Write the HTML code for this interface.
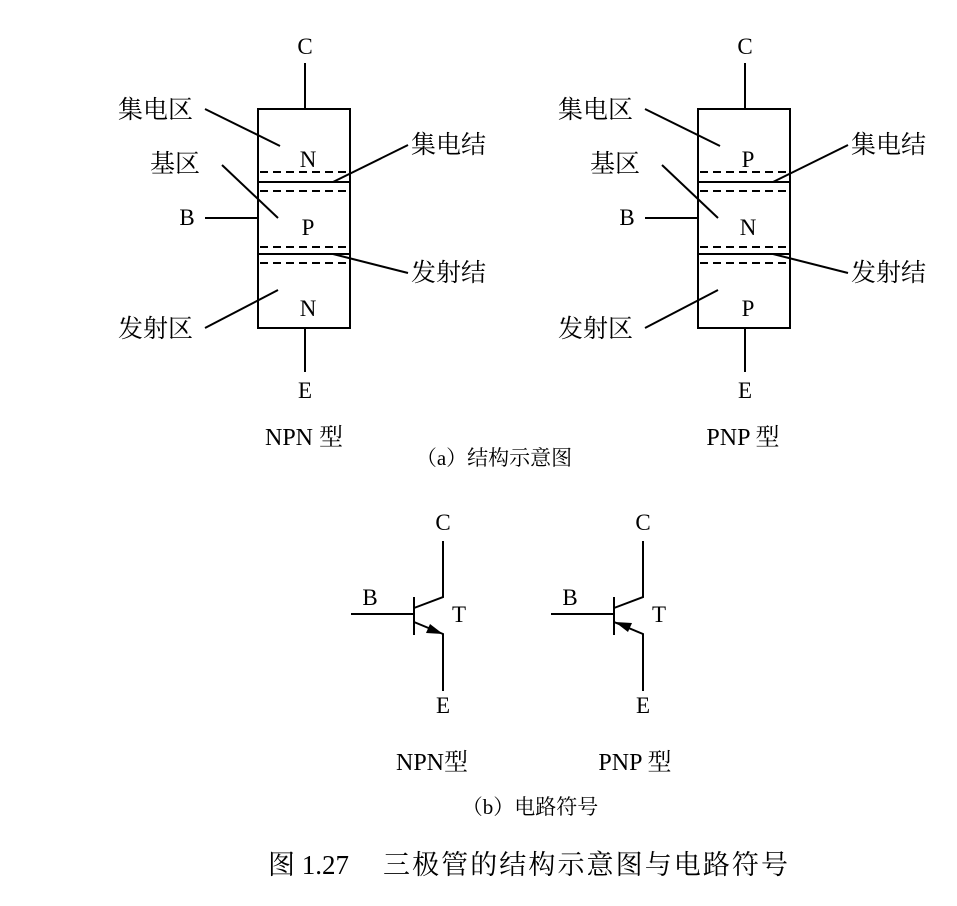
<!DOCTYPE html>
<html><head><meta charset="utf-8"><style>
html,body{margin:0;padding:0;background:#fff}
svg{display:block}
text{font-family:"Liberation Serif","Noto Serif CJK SC",serif;fill:#000}
</style></head><body>
<svg width="957" height="906" viewBox="0 0 957 906" xmlns="http://www.w3.org/2000/svg">
<g stroke="#000" stroke-width="2" fill="none">
 <rect x="258" y="109" width="92" height="219"/>
 <line x1="305" y1="63" x2="305" y2="109"/>
 <line x1="305" y1="328" x2="305" y2="372"/>
 <line x1="205" y1="218" x2="258" y2="218"/>
 <line x1="258" y1="182" x2="350" y2="182"/>
 <line x1="258" y1="254" x2="350" y2="254"/>
 <g stroke-dasharray="8,5">
  <line x1="260" y1="172" x2="348" y2="172"/>
  <line x1="260" y1="191" x2="348" y2="191"/>
  <line x1="260" y1="247" x2="348" y2="247"/>
  <line x1="260" y1="263" x2="348" y2="263"/>
 </g>
 <line x1="205" y1="109" x2="280" y2="146"/>
 <line x1="222" y1="165" x2="278" y2="218"/>
 <line x1="205" y1="328" x2="278" y2="290"/>
 <line x1="333" y1="182" x2="408" y2="145"/>
 <line x1="333" y1="254" x2="408" y2="273"/>
 <g transform="translate(440,0)">
 <rect x="258" y="109" width="92" height="219"/>
 <line x1="305" y1="63" x2="305" y2="109"/>
 <line x1="305" y1="328" x2="305" y2="372"/>
 <line x1="205" y1="218" x2="258" y2="218"/>
 <line x1="258" y1="182" x2="350" y2="182"/>
 <line x1="258" y1="254" x2="350" y2="254"/>
 <g stroke-dasharray="8,5">
  <line x1="260" y1="172" x2="348" y2="172"/>
  <line x1="260" y1="191" x2="348" y2="191"/>
  <line x1="260" y1="247" x2="348" y2="247"/>
  <line x1="260" y1="263" x2="348" y2="263"/>
 </g>
 <line x1="205" y1="109" x2="280" y2="146"/>
 <line x1="222" y1="165" x2="278" y2="218"/>
 <line x1="205" y1="328" x2="278" y2="290"/>
 <line x1="333" y1="182" x2="408" y2="145"/>
 <line x1="333" y1="254" x2="408" y2="273"/>
 </g>
 <line x1="351" y1="614" x2="414" y2="614"/>
 <line x1="414" y1="597" x2="414" y2="635"/>
 <polyline points="414,608 443,597 443,541"/>
 <polyline points="414,622 443,634 443,691"/>
 <line x1="551" y1="614" x2="614" y2="614"/>
 <line x1="614" y1="597" x2="614" y2="635"/>
 <polyline points="614,608 643,597 643,541"/>
 <polyline points="614,622 643,634 643,691"/>
</g>
<polygon points="443,634 426,633 430,624" fill="#000"/>
<polygon points="615,622 632,623 628,632" fill="#000"/>
<g font-size="23" text-anchor="middle">
 <text x="305" y="54">C</text><text x="305" y="398">E</text>
 <text x="187" y="225">B</text>
 <text x="308" y="167">N</text><text x="308" y="235">P</text><text x="308" y="316">N</text>
 <text x="745" y="54">C</text><text x="745" y="398">E</text>
 <text x="627" y="225">B</text>
 <text x="748" y="167">P</text><text x="748" y="235">N</text><text x="748" y="316">P</text>
 <text x="443" y="530">C</text><text x="443" y="713">E</text>
 <text x="370" y="605">B</text><text x="459" y="622">T</text>
 <text x="643" y="530">C</text><text x="643" y="713">E</text>
 <text x="570" y="605">B</text><text x="659" y="622">T</text>
</g>
<g font-size="25">
 <text x="118" y="118">集电区</text>
 <text x="150" y="172">基区</text>
 <text x="118" y="337">发射区</text>
 <text x="411" y="153">集电结</text>
 <text x="411" y="281">发射结</text>
 <text x="558" y="118">集电区</text>
 <text x="590" y="172">基区</text>
 <text x="558" y="337">发射区</text>
 <text x="851" y="153">集电结</text>
 <text x="851" y="281">发射结</text>
</g>
<g font-size="24" text-anchor="middle">
 <text x="304" y="445">NPN 型</text>
 <text x="743" y="445">PNP 型</text>
 <text x="432" y="770">NPN型</text>
 <text x="635" y="770">PNP 型</text>
</g>
<g font-size="21" text-anchor="middle">
 <text x="494" y="465">（a）结构示意图</text>
 <text x="530" y="814">（b）电路符号</text>
</g>
<text x="268" y="874" font-size="27">图 1.27</text>
<text x="383" y="874" font-size="27" textLength="405">三极管的结构示意图与电路符号</text>
</svg>
</body></html>
